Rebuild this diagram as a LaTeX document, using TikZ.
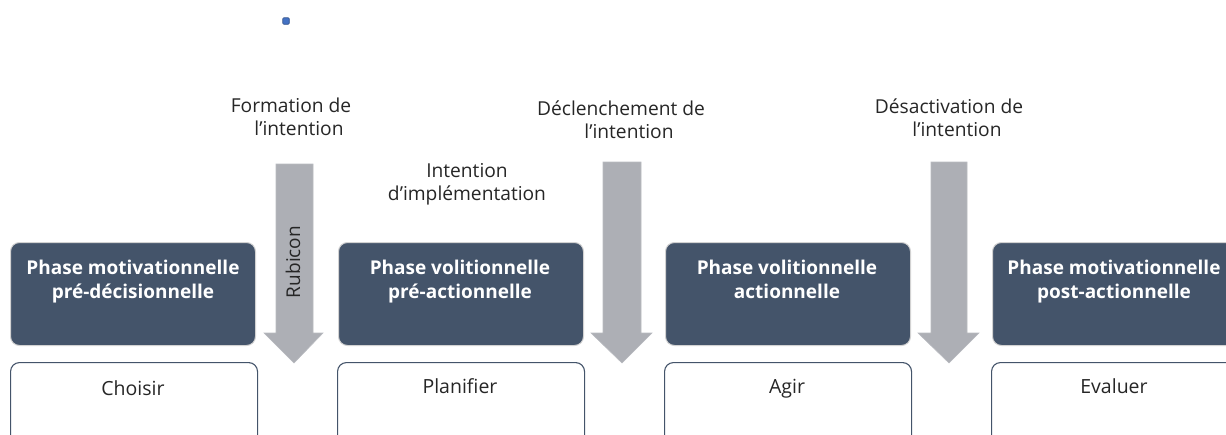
\documentclass[tikz,border=0pt]{standalone}
\usepackage{fontspec}
\setmainfont{Open Sans}
\definecolor{darkbox}{HTML}{44546A}
\definecolor{arrowgray}{HTML}{ADAFB5}
\definecolor{blueSq}{HTML}{4472C4}
\definecolor{txt}{HTML}{262626}
\begin{document}
\begin{tikzpicture}[x=1pt,y=-1pt,
  phase/.style={draw=gray!35, line width=1pt, fill=darkbox, rounded corners=9pt,
    minimum width=245pt, minimum height=103pt, anchor=north west, inner sep=0pt},
  phasetext/.style={text=white, font=\bfseries\fontsize{19}{24}\selectfont, align=center, inner sep=0pt, anchor=north},
  task/.style={draw=darkbox, line width=1.1pt, fill=white, rounded corners=9pt,
    minimum width=247pt, minimum height=120pt, anchor=north west, inner sep=0pt},
  tasktext/.style={text=txt, font=\fontsize{19.5}{24}\selectfont, inner sep=0pt, anchor=base},
  label/.style={text=txt, font=\fontsize{19.2}{23}\selectfont, align=center, inner sep=0pt},
  blockarrow/.style={fill=arrowgray, draw=arrowgray!85!white, line width=0.6pt}
]
\useasboundingbox (0,0) rectangle (1226,434);
\clip (0,0) rectangle (1226,434);

% small blue square
\node[draw=blueSq!70!black, fill=blueSq, minimum size=6.5pt, inner sep=0pt, rounded corners=1pt, line width=0.6pt] (dot) at (286,21) {};

% block arrows
\fill[blockarrow] (276,164) -- (313,164) -- (313,333) -- (323,333) -- (294,363) -- (264,333) -- (276,333) -- cycle;
\fill[blockarrow] (603,162) -- (641,162) -- (641,333) -- (652,333) -- (622,363) -- (591,333) -- (603,333) -- cycle;
\fill[blockarrow] (931,162) -- (967,162) -- (967,333) -- (979,333) -- (949,363) -- (918,333) -- (931,333) -- cycle;
\node[rotate=90, text=txt, font=\fontsize{19}{22}\selectfont, inner sep=0pt] (rubicon) at (293,262) {Rubicon};

% phase boxes
\node[phase] (p1) at (10,242) {};
\node[phase] (p2) at (338,242) {};
\node[phase] (p3) at (665,242) {};
\node[phase] (p4) at (992,242) {};
\node[phasetext] (t1) at (133,259.5) {Phase motivationnelle\\pré-décisionnelle};
\node[phasetext] (t2) at (460,259.5) {Phase volitionnelle\\pré-actionnelle};
\node[phasetext] (t3) at (787,259.5) {Phase volitionnelle\\actionnelle};
\node[phasetext] (t4) at (1114,259.5) {Phase motivationnelle\\post-actionnelle};

% task boxes
\node[task] (b1) at (10,362) {};
\node[task] (b2) at (337,362) {};
\node[task] (b3) at (664,362) {};
\node[task] (b4) at (991,362) {};
\node[tasktext] (c1) at (133,395) {Choisir};
\node[tasktext] (c2) at (460,393) {Planifier};
\node[tasktext] (c3) at (787,393) {Agir};
\node[tasktext] (c4) at (1114,393) {Evaluer};

% labels
\node[label] (l1) at (291,117) {Formation de\\\hspace*{16pt}l’intention};
\node[label] (l2) at (621,119.5) {Déclenchement de\\\hspace*{16pt}l’intention};
\node[label] (l3) at (949,117.5) {Désactivation de\\\hspace*{16pt}l’intention};
\node[label] (l4) at (467,184) {Intention\\d’implémentation};
\end{tikzpicture}
\end{document}
